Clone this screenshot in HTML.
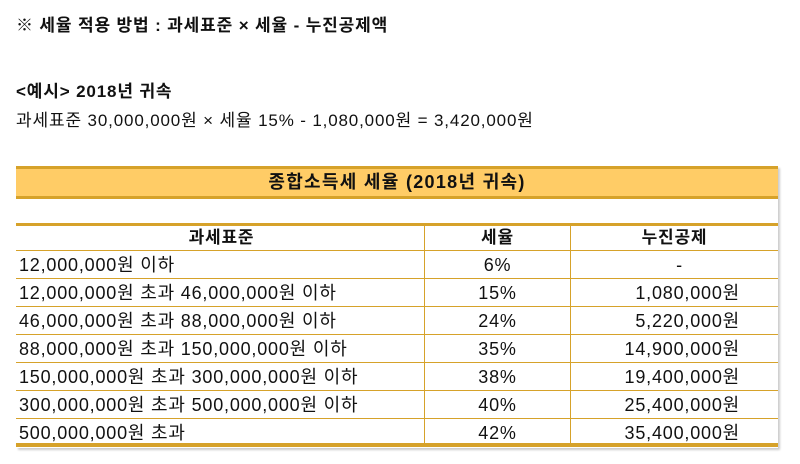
<!DOCTYPE html>
<html><head><meta charset="utf-8"><style>
body{margin:0;width:800px;height:464px;background:#fff;position:relative;overflow:hidden;font-family:"Liberation Sans","Noto Sans CJK KR",sans-serif;color:#111}
.t{position:absolute;left:16px;white-space:nowrap;font-size:17px;letter-spacing:0.85px}
.b{font-weight:bold}
#tbl{position:absolute;left:16px;top:166px;width:762px;box-shadow:2px 2px 2px #ccc}
.r{position:absolute;left:0;width:762px;height:28px;font-size:18px;letter-spacing:0.8px;line-height:28px;border-bottom:1.5px solid #d6a22a;box-sizing:border-box}
.c{position:absolute;top:0;height:100%;box-sizing:border-box;white-space:nowrap}
.c1{left:0;width:408px;padding-left:3px}
.c2{left:408px;width:146px;text-align:center;border-left:1.5px solid #d6a22a}
.c3{left:554px;width:208px;text-align:right;padding-right:38px;border-left:1.5px solid #d6a22a}
</style></head><body>
<div class="t b" style="top:11px">※ 세율 적용 방법 : 과세표준 × 세율 - 누진공제액</div>
<div class="t b" style="top:77px">&lt;예시&gt; 2018년 귀속</div>
<div class="t" style="top:106px">과세표준 30,000,000원 × 세율 15% - 1,080,000원 = 3,420,000원</div>
<div id="tbl" style="height:282px">
<div style="position:absolute;left:0;top:0;width:762px;height:33px;background:#ffcc66;border-top:3px solid #d6a22a;border-bottom:3px solid #d6a22a;box-sizing:border-box;text-align:center;font-size:18px;letter-spacing:1.3px;font-weight:bold;line-height:27px">종합소득세 세율 (2018년 귀속)</div>
<div style="position:absolute;left:0;top:57px;width:762px;height:3px;background:#d6a22a"></div>
<div class="r b" style="top:59px;height:26px;line-height:26px;font-size:17px"><div class="c c1" style="text-align:center">과세표준</div><div class="c c2">세율</div><div class="c c3" style="text-align:center;padding-right:0">누진공제</div></div>
<div id="rows"></div>
<div style="position:absolute;left:0;top:277px;width:762px;height:3px;background:#d6a22a"></div>
</div>
<script>
const brackets=["12,000,000원 이하","12,000,000원 초과 46,000,000원 이하","46,000,000원 초과 88,000,000원 이하","88,000,000원 초과 150,000,000원 이하","150,000,000원 초과 300,000,000원 이하","300,000,000원 초과 500,000,000원 이하","500,000,000원 초과"];
const rates=["6%","15%","24%","35%","38%","40%","42%"];
const deductions=["-","1,080,000원","5,220,000원","14,900,000원","19,400,000원","25,400,000원","35,400,000원"];
const rows=document.getElementById('rows');
brackets.forEach((b,i)=>{
 const r=document.createElement('div');
 r.className='r';
 r.style.top=(85+i*28)+'px';
 
 
 r.innerHTML='<div class="c c1">'+b+'</div><div class="c c2">'+rates[i]+'</div><div class="c c3"'+(deductions[i]=='-'?' style="text-align:center;padding-right:0;padding-left:10px"':'')+'>'+deductions[i]+'</div>';
 rows.appendChild(r);
});
</script>
</body></html>
